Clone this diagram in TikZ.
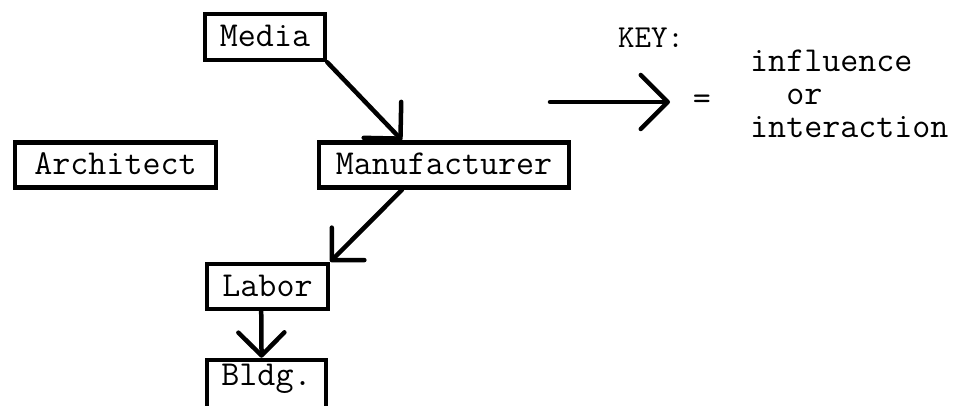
\documentclass[tikz,border=0pt]{standalone}
\usepackage{fontspec}
\usetikzlibrary{arrows.meta,calc}
\begin{document}
\begin{tikzpicture}[x=1pt,y=-1pt,
  typed/.style={font=\ttfamily\fontsize{35}{33}\selectfont\addfontfeature{FakeBold=2}},
  box/.style={typed, draw, line width=4.5pt, inner sep=0pt,
    text height=24pt, text depth=5pt, minimum height=45pt},
  barb/.style={-{Straight Barb[length=#1,width=2*#1,line width=4.5pt,line join=round,line cap=round]}},
  flow/.style={line width=4.5pt, line cap=round, line join=round, barb=23pt}
]
\useasboundingbox (0,0) rectangle (967,406);

% the parties
\node[box, minimum width=120pt, minimum height=46pt] (media) at (265,37) {Media};
\node[box, minimum width=201pt] (architect) at (115.5,165) {Architect};
\node[box, minimum width=250pt] (manufacturer) at (444,165) {Manufacturer};
\node[box, minimum width=121pt] (labor) at (267.5,286.5) {Labor};
\node[box, minimum width=119pt, minimum height=60pt, text depth=32pt, text height=22pt] (bldg) at (266.5,390) {Bldg.};

% lines of influence
\draw[flow, barb=26pt] (media.south east) -- ($(manufacturer.north west)!0.335!(manufacturer.north east)$);
\draw[flow] ($(manufacturer.south west)!0.335!(manufacturer.south east)$) -- (labor.north east);
\draw[flow] ($(labor.south west)!0.45!(labor.south east)$) -- ($(bldg.north west)!0.46!(bldg.north east)$);

% key
\node[typed, font=\ttfamily\fontsize{32}{33}\selectfont\addfontfeature{FakeBold=2}] (keytitle) at (651,38) {KEY:};
\coordinate (keyfrom) at (550,102);
\coordinate (keyto) at (670,102);
\draw[flow, barb=27pt] (keyfrom) -- (keyto);
\node[typed] (equals) at (702,102) {=};
\node[typed, align=left, anchor=base west, inner sep=0pt] (keytext) at (750,138)
  {influence\\\phantom{in}or\\interaction};
\end{tikzpicture}
\end{document}
